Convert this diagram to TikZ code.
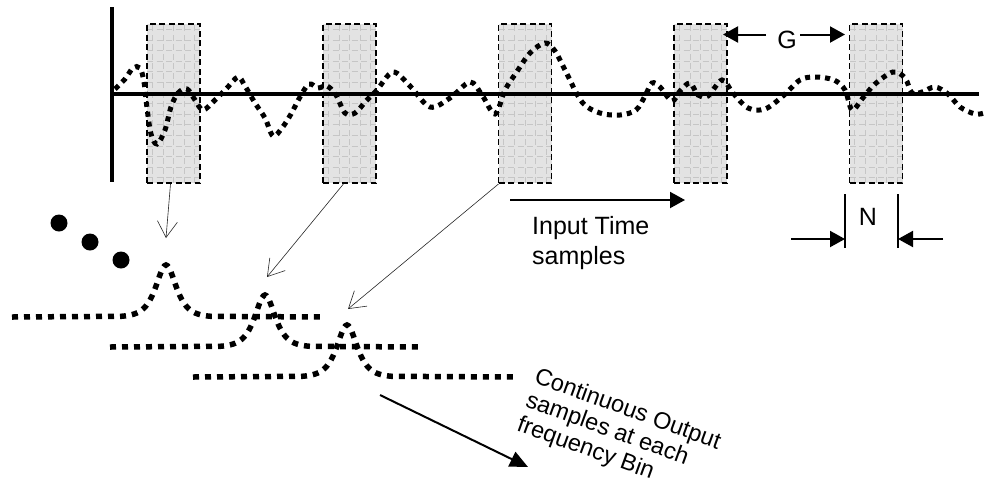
\documentclass[tikz,border=0pt]{standalone}
\usepackage{fontspec}
\setmainfont{Liberation Sans}
\usetikzlibrary{arrows.meta}
\begin{document}
\begin{tikzpicture}[x=1pt,y=1pt,
  font=\fontsize{25}{30}\selectfont,
  win/.style={draw, dash pattern=on 6pt off 3.5pt, line width=1.8pt, fill=gray!22,
    minimum width=53pt, minimum height=159pt, inner sep=0pt,
    path picture={\draw[gray!45,line width=0.7pt,xstep=10.6pt,ystep=10.6pt]
      (path picture bounding box.south west) grid (path picture bounding box.north east);}},
  wavy/.style={line width=5pt, dash pattern=on 5pt off 5pt},
  peakline/.style={line width=5.5pt, dash pattern=on 6pt off 6pt},
  thinarrow/.style={black!85, line width=0.6pt, -{Straight Barb[length=16pt,width=20pt]}},
  bigarrow/.style={line width=2pt, -{Triangle[length=15pt,width=16pt]}},
  dot/.style={circle, fill=black, minimum size=17pt, inner sep=0pt},
  lbl/.style={inner sep=0pt}
]
\useasboundingbox (0,0) rectangle (984,-488);

% windows
\node[win] (b1) at (173.5,-103.5) {};
\node[win] (b2) at (349.5,-103.5) {};
\node[win] (b3) at (525,-103.5) {};
\node[win] (b4) at (700.5,-103.5) {};
\node[win] (b5) at (876,-103.5) {};

% axes
\coordinate (vtop) at (112,-7);
\coordinate (vbot) at (112,-182);
\coordinate (hl) at (112,-94);
\coordinate (hr) at (979,-94);
\draw[line width=4pt] (vtop) -- (vbot);
\draw[line width=3.5pt] (hl) -- (hr);

% input signal
\draw[wavy] plot[smooth, tension=0.55] coordinates {
(115,-89) (125,-79) (133,-68) (140,-68) (144,-82) (147,-108) (151,-134) (157,-144)
(165,-130) (171,-107) (178,-93) (187,-89) (195,-100) (203,-110) (215,-100) (227,-88)
(238,-77) (245,-86) (255,-103) (265,-118) (273,-136) (282,-128) (291,-114) (300,-97)
(309,-84) (318,-88) (327,-86) (336,-95) (345,-113) (355,-113) (366,-101) (377,-90)
(393,-72) (410,-86) (430,-107) (450,-98) (470,-82) (482,-95) (495,-114) (505,-90)
(516,-73) (530,-53) (545,-43) (555,-51) (565,-70) (582,-102) (600,-113) (620,-115)
(636,-110) (645,-96) (652,-83) (660,-87) (672,-101) (680,-91) (690,-83) (698,-95)
(708,-96) (722,-80) (733,-93) (748,-108) (765,-109) (783,-96) (800,-80) (815,-77)
(834,-80) (845,-90) (852,-110) (862,-99) (875,-84) (893,-72) (905,-78) (912,-93)
(922,-92) (935,-87) (948,-94) (960,-107) (975,-114) (984,-113)};

% G annotation
\node[lbl] (G) at (787,-40) {G};
\coordinate (gl0) at (766,-34.5);
\coordinate (gl1) at (723,-34.5);
\coordinate (gr0) at (800,-34.5);
\coordinate (gr1) at (845,-34.5);
\draw[bigarrow] (gl0) -- (gl1);
\draw[bigarrow] (gr0) -- (gr1);

% N annotation
\node[lbl] (N) at (868,-217) {N};
\coordinate (t1a) at (845,-194);
\coordinate (t1b) at (845,-248);
\coordinate (t2a) at (898,-194);
\coordinate (t2b) at (898,-248);
\draw[line width=1.8pt] (t1a) -- (t1b);
\draw[line width=1.8pt] (t2a) -- (t2b);
\coordinate (nl0) at (791,-239);
\coordinate (nl1) at (845,-239);
\coordinate (nr0) at (943,-239);
\coordinate (nr1) at (898,-239);
\draw[bigarrow] (nl0) -- (nl1);
\draw[bigarrow] (nr0) -- (nr1);

% input time arrow
\coordinate (it0) at (510,-200);
\coordinate (it1) at (685,-200);
\draw[bigarrow] (it0) -- (it1);
\node[lbl, anchor=north west, align=left] (itl) at (532,-216) {Input Time\\samples};

% dots
\node[dot] (d1) at (59,-223) {};
\node[dot] (d2) at (90,-242) {};
\node[dot] (d3) at (121,-260) {};

% output spectra
\draw[peakline] (12,-317) -- plot[domain=-45:45,samples=61] ({166+\x},{-317+52/cosh(\x/9)}) -- (322,-317);
\draw[peakline] (110,-347) -- plot[domain=-45:45,samples=61] ({265+\x},{-347+52/cosh(\x/9)}) -- (420,-347);
\draw[peakline] (193,-377) -- plot[domain=-45:45,samples=61] ({347+\x},{-377+52/cosh(\x/9)}) -- (516,-377);

% mapping arrows
\coordinate (p1) at (166,-238);
\coordinate (p2) at (267,-277);
\coordinate (p3) at (348,-309);
\draw[thinarrow] ([xshift=-3pt]b1.south) -- (p1);
\draw[thinarrow] ([xshift=-6pt]b2.south) -- (p2);
\draw[thinarrow] ([xshift=1pt]b3.south west) -- (p3);

% frequency arrow
\coordinate (f0) at (380,-395);
\coordinate (f1) at (528,-467);
\draw[line width=2pt, -{Triangle[length=18pt,width=16pt]}] (f0) -- (f1);
\node[lbl, rotate=-20, anchor=north west, align=left, font=\fontsize{23.5}{25.5}\selectfont] (ftext) at (539,-366) {Continuous Output\\samples at each\\frequency Bin};
\end{tikzpicture}
\end{document}
